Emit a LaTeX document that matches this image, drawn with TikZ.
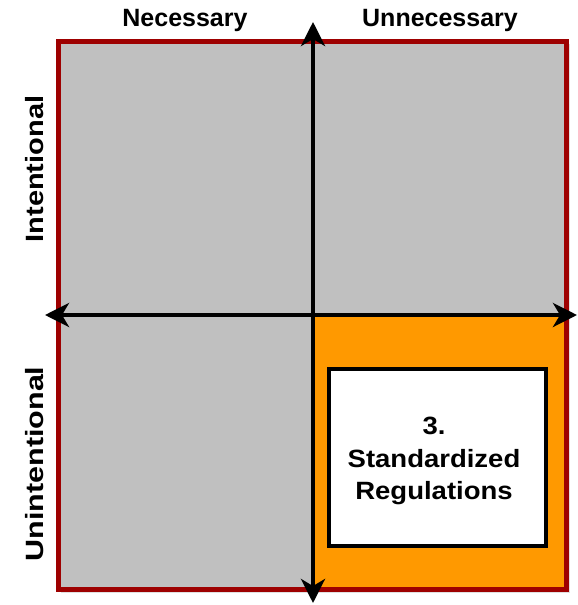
\documentclass[tikz,border=0pt]{standalone}
\usepackage{fontspec}
\setmainfont{Liberation Sans}
\usetikzlibrary{arrows.meta}
\definecolor{qgray}{HTML}{C0C0C0}
\definecolor{qorange}{HTML}{FF9900}
\definecolor{qred}{HTML}{9E0000}
\tikzset{
  axis/.style={line width=4pt, {Stealth[length=24pt,width=24pt,inset=7pt]}-{Stealth[length=24pt,width=24pt,inset=7pt]}},
  lbl/.style={font=\fontsize{25}{30}\selectfont\bfseries, inner sep=0pt},
}
\begin{document}
\begin{tikzpicture}[x=1pt,y=-1pt]
\useasboundingbox (0,0) rectangle (578,605);
% shadow
\fill[black!12] (61,44) rectangle (570,593);
\coordinate (tl) at (58,41);
\coordinate (br) at (566,589);
\coordinate (c) at (313,315);
\fill[qgray] (tl) rectangle (br);
\fill[qorange] (c) rectangle (br);
\draw[qred, line width=5pt] (tl) rectangle (br);
\node[draw=black, line width=4pt, fill=white, minimum width=217pt, minimum height=177pt, inner sep=0pt] (box) at (437.5,457.5) {};
\node[lbl, align=center, font=\fontsize{25}{32.5}\selectfont\bfseries, xscale=1.1] (t3) at (434,461) {3.\\Standardized\\Regulations};
\coordinate (vt) at (313,22);
\coordinate (vb) at (313,603);
\coordinate (hl) at (45,315);
\coordinate (hr) at (577,315);
\draw[axis] (vb) -- (vt);
\draw[axis] (hl) -- (hr);
\node[lbl] (nec) at (185,20) {Necessary};
\node[lbl] (unn) at (440,20) {Unnecessary};
\node[lbl, rotate=90, xscale=1.16] (int) at (35,169) {Intentional};
\node[lbl, rotate=90, xscale=1.22] (unint) at (35,464) {Unintentional};
\end{tikzpicture}
\end{document}
